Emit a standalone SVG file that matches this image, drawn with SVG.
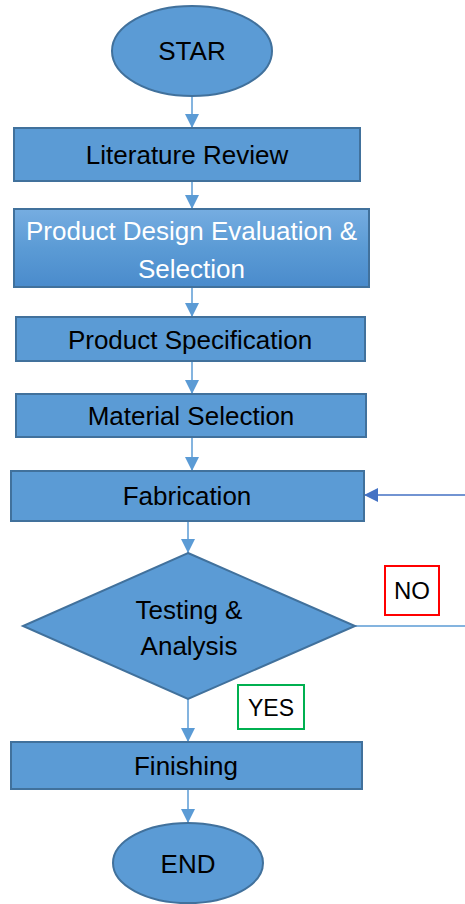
<svg xmlns="http://www.w3.org/2000/svg" width="465" height="904" viewBox="0 0 465 904">
<style>
.shape{fill:#5b9bd5;stroke:#41719c;stroke-width:2}
.grad{fill:url(#g1);stroke:#41719c;stroke-width:2}
.t{font-family:"Liberation Sans",Arial,sans-serif;font-size:26px;fill:#000;text-anchor:middle}
.tw{fill:#fff}
.c{fill:none;stroke:#5b9bd5;stroke-width:1.5}
.cd{fill:none;stroke:#4472c4;stroke-width:1.5}
.lbl{fill:#fff;stroke-width:2}
</style>
<defs>
<linearGradient id="g1" x1="0" y1="0" x2="0" y2="1">
<stop offset="0" stop-color="#76ade1"/>
<stop offset="0.5" stop-color="#5b9bd5"/>
<stop offset="1" stop-color="#4a8bcc"/>
</linearGradient>
<marker id="ah" viewBox="0 0 14 14" refX="14" refY="7" markerWidth="14" markerHeight="14" markerUnits="userSpaceOnUse" orient="auto">
<path d="M0,0 L14,7 L0,14 z" fill="#5b9bd5"/>
</marker>
<marker id="ahd" viewBox="0 0 14 14" refX="14" refY="7" markerWidth="14" markerHeight="14" markerUnits="userSpaceOnUse" orient="auto">
<path d="M0,0 L14,7 L0,14 z" fill="#4472c4"/>
</marker>
</defs>
<g id="connectors">
<path class="c" d="M192,97 V128" marker-end="url(#ah)"/>
<path class="c" d="M192,181 V209" marker-end="url(#ah)"/>
<path class="c" d="M192,287 V317" marker-end="url(#ah)"/>
<path class="c" d="M192,361 V394" marker-end="url(#ah)"/>
<path class="c" d="M192,437 V471" marker-end="url(#ah)"/>
<path class="c" d="M188,521 V553" marker-end="url(#ah)"/>
<path class="c" d="M188,699 V742" marker-end="url(#ah)"/>
<path class="c" d="M188,789 V823" marker-end="url(#ah)"/>
<path class="c" d="M355,626 H467"/>
<path class="cd" d="M467,626 V495 H364" marker-end="url(#ahd)"/>
</g>
<g id="start">
<ellipse class="shape" cx="192" cy="51" rx="80" ry="45"/>
<text class="t" x="192" y="60">STAR</text>
</g>
<g id="literature-review">
<rect class="shape" x="14" y="128" width="346" height="53"/>
<text class="t" x="187" y="164">Literature Review</text>
</g>
<g id="product-design">
<rect class="grad" x="14" y="209" width="355" height="78"/>
<text class="t tw" x="191.5" y="240">Product Design Evaluation &amp;</text>
<text class="t tw" x="191.5" y="278">Selection</text>
</g>
<g id="product-specification">
<rect class="shape" x="16" y="317" width="349" height="44"/>
<text class="t" x="190" y="349">Product Specification</text>
</g>
<g id="material-selection">
<rect class="shape" x="16" y="394" width="350" height="43"/>
<text class="t" x="191" y="425">Material Selection</text>
</g>
<g id="fabrication">
<rect class="shape" x="11" y="471" width="353" height="50"/>
<text class="t" x="187" y="505">Fabrication</text>
</g>
<g id="testing">
<polygon class="shape" points="188,553 355,626 188,699 23,626"/>
<text class="t" x="189" y="619">Testing &amp;</text>
<text class="t" x="189" y="655">Analysis</text>
</g>
<g id="no-label">
<rect class="lbl" x="385" y="566" width="54" height="49" stroke="#ff0000"/>
<text class="t" x="412" y="599" style="font-size:24px">NO</text>
</g>
<g id="yes-label">
<rect class="lbl" x="238" y="685" width="66" height="44" stroke="#00b050"/>
<text class="t" x="271" y="716" style="font-size:23px">YES</text>
</g>
<g id="finishing">
<rect class="shape" x="11" y="742" width="351" height="47"/>
<text class="t" x="186" y="775">Finishing</text>
</g>
<g id="end">
<ellipse class="shape" cx="188" cy="863" rx="75" ry="40"/>
<text class="t" x="188" y="873">END</text>
</g>
</svg>
